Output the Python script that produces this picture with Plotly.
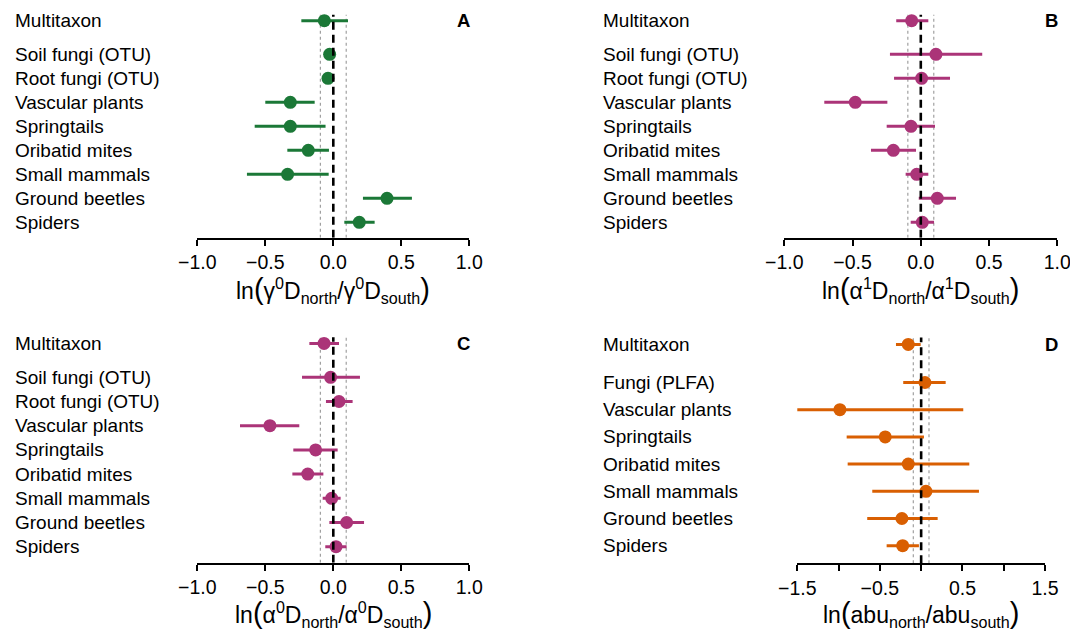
import plotly.graph_objects as go

# ---------------- data ----------------
taxa_div = ["Multitaxon", "Soil fungi (OTU)", "Root fungi (OTU)", "Vascular plants",
            "Springtails", "Oribatid mites", "Small mammals", "Ground beetles", "Spiders"]
taxa_abu = ["Multitaxon", "Fungi (PLFA)", "Vascular plants", "Springtails",
            "Oribatid mites", "Small mammals", "Ground beetles", "Spiders"]

gamma0_est = [-0.066, -0.027, -0.039, -0.316, -0.316, -0.184, -0.336, 0.395, 0.191]
gamma0_lo = [-0.235, -0.045, -0.055, -0.500, -0.578, -0.338, -0.635, 0.218, 0.081]
gamma0_hi = [0.108, -0.012, -0.025, -0.137, -0.057, -0.032, -0.034, 0.578, 0.304]

alpha1_est = [-0.067, 0.111, 0.006, -0.480, -0.072, -0.201, -0.030, 0.121, 0.011]
alpha1_lo = [-0.180, -0.226, -0.196, -0.707, -0.250, -0.365, -0.111, -0.015, -0.074]
alpha1_hi = [0.055, 0.450, 0.214, -0.245, 0.104, -0.035, 0.055, 0.258, 0.097]

alpha0_est = [-0.068, -0.020, 0.042, -0.466, -0.130, -0.188, -0.012, 0.098, 0.020]
alpha0_lo = [-0.176, -0.230, -0.054, -0.686, -0.294, -0.301, -0.078, -0.029, -0.059]
alpha0_hi = [0.042, 0.196, 0.142, -0.250, 0.032, -0.073, 0.054, 0.226, 0.098]

abu_est = [-0.156, 0.046, -0.984, -0.435, -0.156, 0.058, -0.233, -0.224]
abu_lo = [-0.305, -0.217, -1.641, -0.902, -0.890, -0.592, -0.653, -0.418]
abu_hi = [-0.006, 0.297, 0.510, 0.034, 0.583, 0.700, 0.200, -0.027]

div_ticks = [-1.0, -0.5, 0.0, 0.5, 1.0]
div_ticktext = ["\u22121.0", "\u22120.5", "0.0", "0.5", "1.0"]
abu_ticks = [-1.5, -0.5, 0.5, 1.5]
abu_ticktext = ["\u22121.5", "\u22120.5", "0.5", "1.5"]
abu_minor_ticks = [-1.0, 0.0, 1.0]

GREEN = "#1b7837"
MAGENTA = "#ab3478"
ORANGE = "#d95f02"

W, H = 1070, 631
FONT = "Liberation Sans, Arial, Helvetica, sans-serif"

P = "<span style='font-size:29px'>%s</span>"

panels = [
    dict(key="A", taxa=taxa_div, est=gamma0_est, lo=gamma0_lo, hi=gamma0_hi, color=GREEN,
         x0=197.3, x1=469.3, top=5, bottom=237.7, spider=222.3, unit=24.0,
         xr=[-1, 1], tv=div_ticks, tt=div_ticktext, minor=None, labx=13, letx=463,
         title="ln" + P % "(" + "\u03b3<sup>0</sup>D<sub>north</sub>/\u03b3<sup>0</sup>D<sub>south</sub>" + P % ")",
         titley=290),
    dict(key="B", taxa=taxa_div, est=alpha1_est, lo=alpha1_lo, hi=alpha1_hi, color=MAGENTA,
         x0=784.3, x1=1057.3, top=5, bottom=237.7, spider=222.3, unit=24.0,
         xr=[-1, 1], tv=div_ticks, tt=div_ticktext, minor=None, labx=600.7, letx=1051,
         title="ln" + P % "(" + "\u03b1<sup>1</sup>D<sub>north</sub>/\u03b1<sup>1</sup>D<sub>south</sub>" + P % ")",
         titley=290),
    dict(key="C", taxa=taxa_div, est=alpha0_est, lo=alpha0_lo, hi=alpha0_hi, color=MAGENTA,
         x0=197.3, x1=469.3, top=325, bottom=562.7, spider=546.7, unit=24.2,
         xr=[-1, 1], tv=div_ticks, tt=div_ticktext, minor=None, labx=13, letx=463,
         title="ln" + P % "(" + "\u03b1<sup>0</sup>D<sub>north</sub>/\u03b1<sup>0</sup>D<sub>south</sub>" + P % ")",
         titley=613.5),
    dict(key="D", taxa=taxa_abu, est=abu_est, lo=abu_lo, hi=abu_hi, color=ORANGE,
         x0=797.3, x1=1045.0, top=325, bottom=563.3, spider=545.7, unit=27.2,
         xr=[-1.5, 1.5], tv=abu_ticks, tt=abu_ticktext, minor=abu_minor_ticks, labx=600.7, letx=1051,
         title="ln" + P % "(" + "abu<sub>north</sub>/abu<sub>south</sub>" + P % ")",
         titley=613.5),
]

fig = go.Figure()
shapes = []
annotations = []
layout_axes = {}

for i, p in enumerate(panels):
    n = len(p["taxa"]) - 1
    ys = [n + 1.4] + [n - k for k in range(n)]
    suffix = "" if i == 0 else str(i + 1)
    xa, ya = "x" + suffix, "y" + suffix
    ylo = 1 - (p["bottom"] - p["spider"]) / p["unit"]
    yhi = 1 + (p["spider"] - p["top"]) / p["unit"]

    xax = dict(
        domain=[p["x0"] / W, p["x1"] / W], range=p["xr"], anchor=ya, automargin=False,
        showgrid=False, zeroline=False, showline=True, linecolor="black", linewidth=2,
        ticks="outside", ticklen=6, tickwidth=2, tickcolor="black",
        tickmode="array", tickvals=p["tv"], ticktext=p["tt"], ticklabeloverflow="allow",
        tickfont=dict(family=FONT, size=19.5, color="black"), fixedrange=True)
    if p["minor"]:
        xax["minor"] = dict(tickmode="array", tickvals=p["minor"], ticks="outside",
                            ticklen=6, tickwidth=2, tickcolor="black", showgrid=False)
    layout_axes["xaxis" + suffix] = xax
    layout_axes["yaxis" + suffix] = dict(
        domain=[1 - p["bottom"] / H, 1 - p["top"] / H], range=[ylo, yhi], anchor=xa,
        automargin=False, visible=False, showgrid=False, zeroline=False, fixedrange=True)

    err_plus = [h - e for h, e in zip(p["hi"], p["est"])]
    err_minus = [e - l for e, l in zip(p["est"], p["lo"])]
    fig.add_trace(go.Scatter(
        x=p["est"], y=ys, xaxis=xa, yaxis=ya, mode="markers",
        marker=dict(size=13, color=p["color"]),
        error_x=dict(type="data", symmetric=False, array=err_plus, arrayminus=err_minus,
                     color=p["color"], thickness=3, width=0),
        showlegend=False, hoverinfo="skip"))

    ytop = ys[0] + 0.25
    for xv in (-0.095, 0.095):
        shapes.append(dict(type="line", xref=xa, yref=ya, x0=xv, x1=xv, y0=ylo, y1=ytop,
                           line=dict(color="#a0a0a0", width=1.2, dash="3px,3px"), layer="below"))
    shapes.append(dict(type="line", xref=xa, yref=ya, x0=0, x1=0, y0=ylo, y1=ytop,
                       line=dict(color="black", width=2.6, dash="8px,5px"), layer="above"))

    for name, yv in zip(p["taxa"], ys):
        annotations.append(dict(text=name, xref="paper", yref=ya, x=p["labx"] / W, y=yv,
                                xanchor="left", yanchor="middle", showarrow=False,
                                font=dict(family=FONT, size=19, color="black")))
    annotations.append(dict(text="<b>" + p["key"] + "</b>", xref="paper", yref=ya,
                            x=p["letx"] / W, y=ys[0], xanchor="center", yanchor="middle",
                            showarrow=False, font=dict(family=FONT, size=18.5, color="black")))
    annotations.append(dict(text=p["title"], xref="paper", yref="paper",
                            x=((p["x0"] + p["x1"]) / 2) / W, y=1 - p["titley"] / H,
                            xanchor="center", yanchor="middle", showarrow=False,
                            font=dict(family=FONT, size=23, color="black")))

fig.update_layout(
    width=W, height=H, margin=dict(l=0, r=0, t=0, b=0, autoexpand=False),
    paper_bgcolor="white", plot_bgcolor="white",
    shapes=shapes, annotations=annotations, **layout_axes)

fig.write_html("out.html")
